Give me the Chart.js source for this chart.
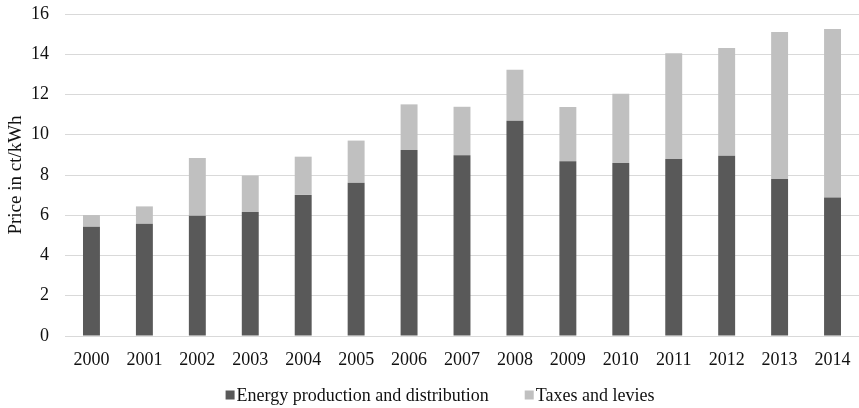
<!DOCTYPE html>
<html>
<head>
<meta charset="utf-8">
<script src="https://cdn.jsdelivr.net/npm/chart.js@4/dist/chart.umd.min.js"></script>
<style>
  html, body { margin: 0; padding: 0; background: #fff; }
  #wrap { position: relative; width: 859px; height: 408px; }
</style>
</head>
<body>
<div id="wrap"><canvas id="priceChart"></canvas></div>
<script>
// Data (ct/kWh)
const years = ['2000', '2001', '2002', '2003', '2004', '2005', '2006', '2007',
               '2008', '2009', '2010', '2011', '2012', '2013', '2014'];
const energyValues = [5.43, 5.58, 5.98, 6.16, 7.01, 7.62, 9.24, 8.98,
                      10.70, 8.68, 8.60, 8.80, 8.96, 7.80, 6.88];
const taxValues = [0.58, 0.86, 2.86, 1.81, 1.90, 2.09, 2.27, 2.41,
                   2.53, 2.70, 3.44, 5.25, 5.35, 7.31, 8.37];
const yTicks = [0, 2, 4, 6, 8, 10, 12, 14, 16];

const fontFamily = '"Liberation Serif", "Times New Roman", serif';
const textColor = '#111111';
const gridColor = '#d9d9d9';

// Simple legend drawn under the axis (small gap between box and text, like the original)
const bottomLegend = {
    id: 'bottomLegend',
    afterDraw(chart) {
        const ctx = chart.ctx;
        const sets = chart.data.datasets;
        const box = 9, gap = 2, spacing = 36, y = 395;
        ctx.save();
        ctx.font = '18px ' + fontFamily;
        ctx.textBaseline = 'middle';
        let total = 0;
        sets.forEach((ds, i) => {
            total += box + gap + ctx.measureText(ds.label).width;
            if (i < sets.length - 1) total += spacing;
        });
        let x = 440 - total / 2;
        sets.forEach(ds => {
            ctx.fillStyle = ds.backgroundColor;
            ctx.fillRect(x, y - box / 2, box, box);
            x += box + gap;
            ctx.fillStyle = textColor;
            ctx.fillText(ds.label, x, y + 1);
            x += ctx.measureText(ds.label).width + spacing;
        });
        ctx.restore();
    }
};

const ctx = document.getElementById('priceChart').getContext('2d');
new Chart(ctx, {
    type: 'bar',
    data: {
        labels: years,
        datasets: [{
            label: 'Energy production and distribution',
            data: energyValues,
            backgroundColor: '#595959',
            borderWidth: 0
        }, {
            label: 'Taxes and levies',
            data: taxValues,
            backgroundColor: '#c0c0c0',
            borderWidth: 0
        }]
    },
    options: {
        responsive: true,
        maintainAspectRatio: false,
        animation: false,
        layout: {
            padding: { top: 14, right: 0, bottom: 0, left: 0 }
        },
        plugins: {
            legend: { display: false },
            tooltip: { enabled: false }
        },
        datasets: {
            bar: {
                barPercentage: 0.32,
                categoryPercentage: 1
            }
        },
        scales: {
            x: {
                stacked: true,
                grid: { display: false, drawTicks: false },
                border: { display: true, color: gridColor, width: 1 },
                ticks: {
                    color: textColor,
                    padding: 13,
                    maxRotation: 0,
                    font: { family: fontFamily, size: 18 }
                },
                afterFit(scale) {
                    scale.height = 72;
                    scale.paddingLeft = 0;
                    scale.paddingRight = 0;
                }
            },
            y: {
                stacked: true,
                min: 0,
                max: 16,
                afterBuildTicks(scale) {
                    scale.ticks = yTicks.map(v => ({ value: v }));
                },
                grid: { color: gridColor, drawTicks: false },
                border: { display: false },
                ticks: {
                    color: textColor,
                    padding: 16,
                    font: { family: fontFamily, size: 18 }
                },
                title: {
                    display: true,
                    text: 'Price in ct/kWh',
                    color: textColor,
                    padding: { top: 5, bottom: 0 },
                    font: { family: fontFamily, size: 19 }
                },
                afterFit(scale) {
                    scale.width = 65;
                    scale.paddingTop = 0;
                    scale.paddingBottom = 0;
                }
            }
        }
    },
    plugins: [bottomLegend]
});
</script>
</body>
</html>
